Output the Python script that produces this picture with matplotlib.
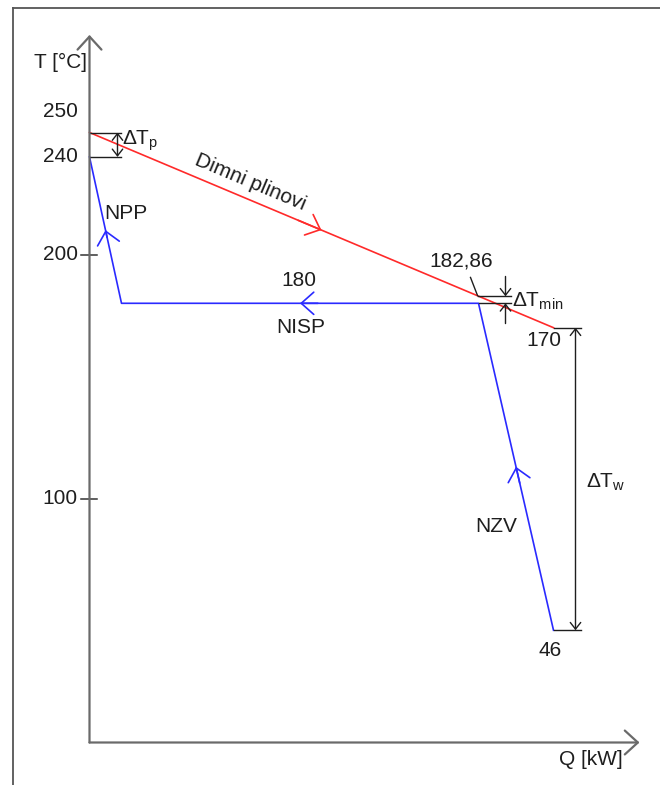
import math
import matplotlib
matplotlib.use('Agg')
import matplotlib.pyplot as plt
from matplotlib.lines import Line2D

plt.rcParams['font.family'] = ['Liberation Sans', 'DejaVu Sans']
plt.rcParams['mathtext.fontset'] = 'custom'
plt.rcParams['mathtext.rm'] = 'Liberation Sans'
plt.rcParams['mathtext.it'] = 'Liberation Sans:italic'
plt.rcParams['mathtext.default'] = 'regular'

# dimni plinovi (flue gas) and water/steam line
q_gas = [0, 464]
t_gas = [250, 170]
q_water = [0, 32, 389, 464]
t_water = [240, 180, 180, 46]

# pinch point
q_pinch = 416
t_pinch_gas = 182.86
t_pinch_water = 180

y_ticks = [200, 100]
y_tick_labels = ['200', '100']
top_labels = [250, 240]

q_axis_end = 550
t_axis_end = 290

RED = '#ff2a2a'
BLUE = '#2a2aff'
AXIS = '#6a6a6a'
TXT = '#1e1e1e'
FS = 15

fig = plt.figure(figsize=(6.6, 7.85), dpi=100)
ax = fig.add_axes([0, 0, 1, 1])
ax.set_xlim(-89.5, 570.5)
ax.set_ylim(-42.5 / 2.44, 742.5 / 2.44)
ax.axis('off')

# frame of the picture (top and left only)
fig.add_artist(Line2D([13 / 660, 1], [1 - 8 / 785, 1 - 8 / 785], transform=fig.transFigure,
                      color='#555555', lw=1.3))
fig.add_artist(Line2D([13 / 660, 13 / 660], [0, 1 - 8 / 785], transform=fig.transFigure,
                      color='#555555', lw=1.3))

# axes with open arrow heads
axis_arrow = dict(arrowstyle='->,head_length=0.47,head_width=0.43', color=AXIS, lw=1.6,
                  shrinkA=0, shrinkB=0, mutation_scale=20)
ax.annotate('', xy=(0, t_axis_end), xytext=(0, 0), arrowprops=axis_arrow)
ax.annotate('', xy=(q_axis_end, 0), xytext=(0, 0), arrowprops=axis_arrow)

for t in y_ticks:
    ax.plot([-8.5, 7.5], [t, t], color='#333333', lw=1.1)
for t, lab in zip(y_ticks, y_tick_labels):
    ax.text(-12, t, lab, ha='right', va='center', fontsize=FS, color=TXT)
ax.text(-12, top_labels[0] + 8.5, str(top_labels[0]), ha='right', va='center', fontsize=FS, color=TXT)
ax.text(-12, top_labels[1], str(top_labels[1]), ha='right', va='center', fontsize=FS, color=TXT)
ax.text(-3, 278.5, 'T [°C]', ha='right', va='center', fontsize=FS, color=TXT)
ax.text(533, -6.8, 'Q [kW]', ha='right', va='center', fontsize=FS, color=TXT)

# the two lines
ax.plot(q_gas, t_gas, color=RED, lw=1.2)
ax.plot(q_water, t_water, color=BLUE, lw=1.2)


def flow_arrow(q0, t0, q1, t1, color):
    qm, tm = (q0 + q1) / 2, (t0 + t1) / 2
    qb, tb = q0 + (q1 - q0) * 0.45, t0 + (t1 - t0) * 0.45
    ax.annotate('', xy=(qm, tm), xytext=(qb, tb),
                arrowprops=dict(arrowstyle='->,head_length=0.45,head_width=0.4', color=color,
                                lw=1.2, shrinkA=0, shrinkB=0, mutation_scale=20))


flow_arrow(q_gas[0], t_gas[0], q_gas[1], t_gas[1], RED)
flow_arrow(q_water[1], t_water[1], q_water[0], t_water[0], BLUE)
flow_arrow(q_water[2], t_water[2], q_water[1], t_water[1], BLUE)
flow_arrow(q_water[3], t_water[3], q_water[2], t_water[2], BLUE)

# line labels
p0 = ax.transData.transform((q_gas[0], t_gas[0]))
p1 = ax.transData.transform((q_gas[1], t_gas[1]))
ang = math.degrees(math.atan2(p1[1] - p0[1], p1[0] - p0[0]))
ax.text(161, 229.5, 'Dimni plinovi', rotation=ang, ha='center', va='center', fontsize=FS,
        color=TXT, rotation_mode='anchor')
ax.text(36, 216.8, 'NPP', ha='center', va='center', fontsize=FS, color=TXT)
ax.text(209, 189.3, '180', ha='center', va='center', fontsize=FS, color=TXT)
ax.text(211, 170.1, 'NISP', ha='center', va='center', fontsize=FS, color=TXT)
ax.text(407, 88.5, 'NZV', ha='center', va='center', fontsize=FS, color=TXT)
ax.text(454, 164.8, '170', ha='center', va='center', fontsize=FS, color=TXT)
ax.text(461, 37.7, '46', ha='center', va='center', fontsize=FS, color=TXT)
ax.text(372, 197.5, '182,86', ha='center', va='center', fontsize=FS, color=TXT)
ax.plot([381, 388], [190.6, 183.2], color=TXT, lw=1.0)

dim = dict(color=TXT, lw=1.0)
small_head = dict(arrowstyle='->,head_length=0.32,head_width=0.25', color=TXT, lw=1.0,
                  shrinkA=0, shrinkB=0, mutation_scale=15)
both_head = dict(small_head, arrowstyle='<->,head_length=0.32,head_width=0.25')

# delta T_p
ax.plot([0, 31], [t_gas[0], t_gas[0]], **dim)
ax.plot([0, 31], [t_water[0], t_water[0]], **dim)
ax.annotate('', xy=(28, t_gas[0]), xytext=(28, t_water[0]), arrowprops=both_head)
ax.text(32, 246.7, 'ΔT$_{\\mathrm{p}}$', ha='left', va='center', fontsize=FS, color=TXT)

# delta T_min
ax.plot([388, 421], [t_pinch_gas, t_pinch_gas], **dim)
ax.plot([389, 421], [t_pinch_water, t_pinch_water], **dim)
ax.annotate('', xy=(q_pinch, t_pinch_gas), xytext=(q_pinch, 191), arrowprops=small_head)
ax.annotate('', xy=(q_pinch, t_pinch_water), xytext=(q_pinch, 171.7), arrowprops=small_head)
ax.text(423, 180.6, 'ΔT$_{\\mathrm{min}}$', ha='left', va='center', fontsize=FS, color=TXT)

# delta T_w
ax.plot([q_gas[1], 491], [t_gas[1], t_gas[1]], **dim)
ax.plot([q_water[3], 491], [t_water[3], t_water[3]], **dim)
ax.annotate('', xy=(486, t_gas[1]), xytext=(486, t_water[3]), arrowprops=both_head)
ax.text(496, 106.6, 'ΔT$_{\\mathrm{w}}$', ha='left', va='center', fontsize=FS, color=TXT)

fig.savefig('out.png', dpi=100)
